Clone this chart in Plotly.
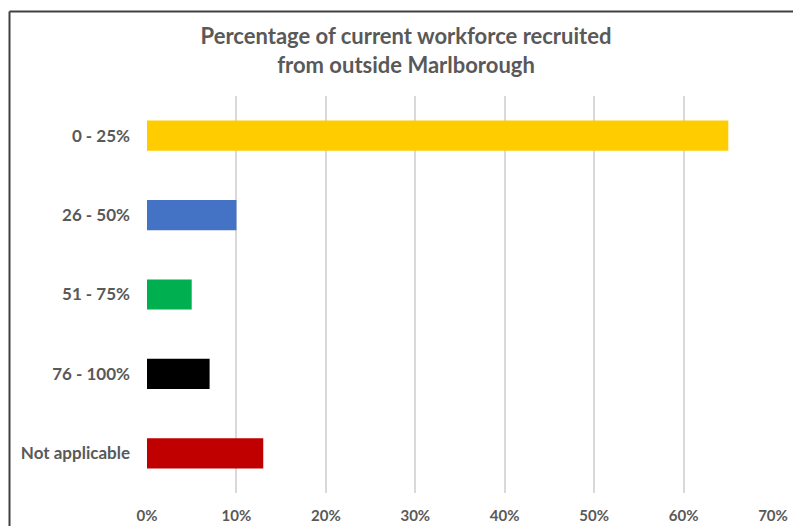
import plotly.graph_objects as go

categories = ["0 - 25%", "26 - 50%", "51 - 75%", "76 - 100%", "Not applicable"]
values = [65, 10, 5, 7, 13]
colors = ["#FFCC00", "#4472C4", "#00B050", "#000000", "#C00000"]
x_ticks = [0, 10, 20, 30, 40, 50, 60, 70]
x_ticklabels = [f"{t}%" for t in x_ticks]

W, H = 793, 526
L, R, T, B = 147, 20, 96, 33

fig = go.Figure(go.Bar(
    x=values, y=categories, orientation="h",
    marker=dict(color=colors, line=dict(width=0)),
    width=0.38,
))

fig.update_layout(
    width=W, height=H,
    margin=dict(l=L, r=R, t=T, b=B, autoexpand=False),
    paper_bgcolor="white", plot_bgcolor="white",
    showlegend=False,
    font=dict(family="Lato", color="#595959"),
    title=dict(
        text="<b>Percentage of current workforce recruited<br>from outside Marlborough</b>",
        x=406 / W, xanchor="center", xref="container",
        y=1 - 44 / H, yanchor="top", yref="container",
        font=dict(size=22, color="#595959", family="Lato"),
    ),
    xaxis=dict(
        range=[0, 70], tickvals=x_ticks,
        ticktext=[f"<b>{t}</b>" for t in x_ticklabels],
        showgrid=True, gridcolor="#D9D9D9", gridwidth=2,
        zeroline=False, showline=False, automargin=False,
        tickfont=dict(size=15, color="#595959", family="Lato"),
        ticklabelstandoff=12,
    ),
    yaxis=dict(
        autorange="reversed", showgrid=False, zeroline=False, showline=False,
        automargin=False,
        tickvals=categories, ticktext=[f"<b>{c}</b>" for c in categories],
        tickfont=dict(size=17, color="#595959", family="Lato"),
        ticklabelstandoff=16,
    ),
)

# outer border (left and top edges visible)
pw = W - L - R
ph = H - T - B
bx = (9.5 - L) / pw
by = 1 + (T - 11.5) / ph
fig.add_shape(type="line", xref="paper", yref="paper", x0=bx, x1=bx, y0=-0.2, y1=by,
              line=dict(color="#404040", width=2))
fig.add_shape(type="line", xref="paper", yref="paper", x0=bx, x1=1.2, y0=by, y1=by,
              line=dict(color="#404040", width=2))

fig.write_html("out.html")
